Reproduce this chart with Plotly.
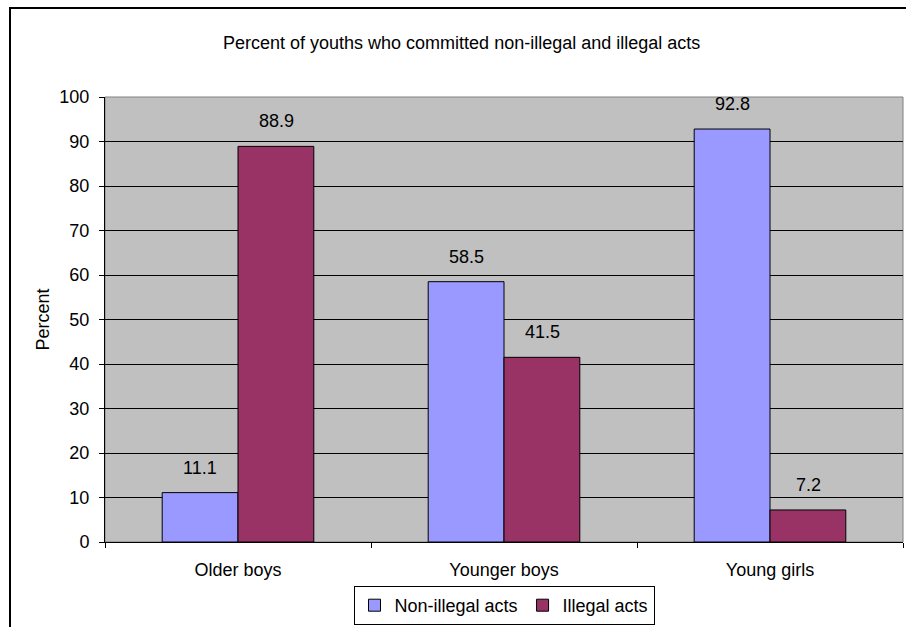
import plotly.graph_objects as go

categories = ["Older boys", "Younger boys", "Young girls"]
non_illegal = [11.1, 58.5, 92.8]
illegal = [88.9, 41.5, 7.2]
series_names = ["Non-illegal acts", "Illegal acts"]
colors = ["#9999FF", "#993366"]

W, H = 906, 627
L, R, T, B = 105, 3, 97, 85
pw = W - L - R
ph = H - T - B

font = dict(family="Liberation Sans, Arial, sans-serif", size=18, color="black")

fig = go.Figure()
for name, vals, col in zip(series_names, [non_illegal, illegal], colors):
    fig.add_trace(go.Bar(
        x=categories, y=vals, name=name,
        marker=dict(color=col, line=dict(color="black", width=1)),
    ))

annotations = []
for vals, shift in [(non_illegal, -38), (illegal, 38)]:
    for c, v in zip(categories, vals):
        annotations.append(dict(
            x=c, y=v, xref="x", yref="y", text=f"{v:.1f}", showarrow=False,
            xshift=shift, yshift=25, yanchor="middle", font=font))

annotations.append(dict(
    x=(461 - L) / pw, y=(H - B - 43) / ph, xref="paper", yref="paper",
    text="Percent of youths who committed non-illegal and illegal acts",
    showarrow=False, xanchor="center", yanchor="middle", font=font))
annotations.append(dict(
    x=(42 - L) / pw, y=0.5, xref="paper", yref="paper", text="Percent",
    showarrow=False, textangle=-90, xanchor="center", yanchor="middle", font=font))

shapes = [
    dict(type="rect", xref="paper", yref="paper", x0=0, x1=1, y0=0, y1=1,
         line=dict(color="#808080", width=1), fillcolor="rgba(0,0,0,0)", layer="below"),
    dict(type="rect", xref="paper", yref="paper",
         x0=(10 - L) / pw, x1=(W + 20 - L) / pw,
         y0=(H - B - (H + 20)) / ph, y1=(H - B - 8) / ph,
         line=dict(color="black", width=2), fillcolor="rgba(0,0,0,0)", layer="above"),
]

fig.update_layout(
    width=W, height=H,
    margin=dict(l=L, r=R, t=T, b=B, autoexpand=False),
    paper_bgcolor="white", plot_bgcolor="#C0C0C0",
    font=font,
    barmode="group", bargap=0.43, bargroupgap=0,
    showlegend=True,
    legend=dict(orientation="h", x=0.5, xanchor="center",
                y=(H - B - 586) / ph, yanchor="top",
                bordercolor="black", borderwidth=1, bgcolor="white",
                font=font, itemwidth=30, tracegroupgap=0),
    annotations=annotations,
    shapes=shapes,
    xaxis=dict(showgrid=False, showline=True, linecolor="black", linewidth=1,
               ticks="outside", tickson="boundaries", ticklen=5, tickcolor="black",
               tickfont=font, zeroline=False, ticklabelstandoff=11, automargin=False),
    yaxis=dict(range=[0, 100], dtick=10, showgrid=True, gridcolor="black", gridwidth=1,
               showline=True, linecolor="black", linewidth=1,
               ticks="outside", ticklen=5, tickcolor="black", tickfont=font,
               zeroline=False, ticklabelstandoff=6, automargin=False),
)

fig.write_html("out.html")
